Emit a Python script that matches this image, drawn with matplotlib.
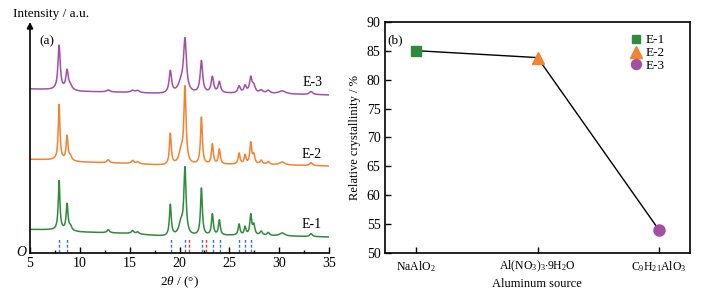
import numpy as np
import matplotlib
matplotlib.use("Agg")
import matplotlib.pyplot as plt

plt.rcParams['font.family'] = ['Liberation Serif', 'DejaVu Serif']
plt.rcParams['mathtext.fontset'] = 'custom'
plt.rcParams['mathtext.rm'] = 'Liberation Serif'
plt.rcParams['mathtext.it'] = 'Liberation Serif:italic'
plt.rcParams['mathtext.bf'] = 'Liberation Serif:bold'

# ---------------- data: XRD panel (a) ----------------
two_theta_range = [5, 35]
peak_pos = [7.92, 8.72, 9.05, 12.85, 15.3, 15.8, 19.08, 20.15, 20.55, 22.2,
            23.3, 24.0, 25.98, 26.58, 27.15, 27.45, 28.2, 28.9, 30.3, 33.2]
peak_hwhm = [0.10, 0.11, 0.15, 0.15, 0.15, 0.15, 0.11, 0.25, 0.13, 0.11,
             0.11, 0.11, 0.11, 0.11, 0.11, 0.13, 0.15, 0.15, 0.30, 0.15]
E1_heights = [49, 26, 4, 3, 3, 2, 31, 12, 66, 47, 21, 15, 11, 8, 20, 10, 4, 3, 3, 3]
E2_heights = [55, 24, 4, 3, 3, 2, 31, 12, 76, 47, 20, 15, 11, 9, 21, 9, 4, 3, 3, 3]
E3_heights = [44, 19, 4, 2, 2, 2, 22, 9, 52, 32, 16, 11, 7, 7, 15, 7, 3, 3, 3, 3]
baseline_x = [5, 8, 10, 15, 18.5, 25, 30, 35]
E1_base = [23.5, 23, 21, 19.5, 16.5, 17.5, 17, 16]
E2_base = [93.7, 93, 91, 89.5, 87.5, 88.5, 88, 87]
E3_base = [164, 163, 161.5, 160.5, 159, 159.5, 159, 158]
ref_blue = [7.91, 8.71, 19.11, 20.58, 22.25, 23.35, 24.05, 25.99, 26.6, 27.2]
ref_red = [20.98, 22.65]
series_names = ['E-1', 'E-2', 'E-3']
colors = ['#2f8a3e', '#f5822f', '#a44ea6']

# ---------------- data: crystallinity panel (b) ----------------
sources = [r'NaAlO$_2$', r'Al(NO$_3$)$_3$$\cdot$9H$_2$O', r'C$_9$H$_{21}$AlO$_3$']
crystallinity = [85.0, 83.8, 54.0]
markers = ['s', '^', 'o']
marker_sizes = [7, 9, 8]

fig = plt.figure(figsize=(7.04, 2.96), dpi=100)

# ---------- panel (a) ----------
axa = fig.add_axes([30/704, 1-253/296, 299/704, 231/296])
x = np.arange(5, 35.0001, 0.02)
wscale = [1.0, 1.0, 1.35]
for heights, bases, col, ws in zip([E1_heights, E2_heights, E3_heights],
                                   [E1_base, E2_base, E3_base], colors, wscale):
    y = np.interp(x, baseline_x, bases)
    for p, h, w in zip(peak_pos, heights, peak_hwhm):
        ww = w * ws
        y = y + h / (1 + ((x - p) / ww) ** 2)
    axa.plot(x, y, color=col, lw=1.1)

axa.vlines(ref_blue, 1.5, 15, colors='#3a6fd0', linestyles=(0, (2, 1.5)), lw=1.0)
axa.vlines(ref_red, 1.5, 15, colors='#e5322b', linestyles=(0, (2, 1.5)), lw=1.0)

axa.set_xlim(two_theta_range)
axa.set_ylim(0, 231)
axa.spines['top'].set_visible(False)
axa.spines['right'].set_visible(False)
axa.spines['left'].set_visible(False)
axa.set_yticks([])
axa.set_xticks([5, 10, 15, 20, 25, 30, 35])
axa.set_xticks(np.arange(7.5, 35, 5), minor=True)
axa.tick_params(axis='x', which='major', direction='in', length=4, width=1, labelsize=10, pad=3)
axa.tick_params(axis='x', which='minor', direction='in', length=2.5, width=1)
axa.spines['bottom'].set_linewidth(1.2)
axa.annotate('', xy=(0, 1.0), xycoords='axes fraction', xytext=(0, 0),
             textcoords='axes fraction',
             arrowprops=dict(arrowstyle='-|>', color='black', lw=1.2,
                             mutation_scale=9, shrinkA=0, shrinkB=0))
axa.set_xlabel(r'2$\it{\theta}$ / (°)', fontsize=9.5, labelpad=3)
axa.text(6.7, 212, '(a)', fontsize=9.5, ha='center', va='center')
for name, yy in zip(series_names, [28, 99, 170]):
    axa.text(33.3, yy, name, fontsize=10, ha='center', va='center')
fig.text(13/704, 1-14/296, 'Intensity / a.u.', fontsize=9.5, ha='left', va='center')
fig.text(21/704, 1-253/296, 'O', fontsize=10, fontstyle='italic', ha='center', va='center')

# ---------- panel (b) ----------
axb = fig.add_axes([384.7/704, 1-253.3/296, 305.3/704, 231.6/296])
xb = np.arange(len(sources))
axb.plot(xb, crystallinity, color='black', lw=1.0, zorder=2)
for i in range(len(xb)):
    axb.plot(xb[i], crystallinity[i], linestyle='none', marker=markers[i],
             markersize=marker_sizes[i], color=colors[i], label=series_names[i],
             zorder=3)
axb.set_xlim(-0.257, 2.254)
axb.set_ylim(50, 90)
axb.set_yticks([50, 55, 60, 65, 70, 75, 80, 85, 90])
axb.set_xticks(xb)
axb.set_xticklabels(sources)
axb.tick_params(axis='y', direction='in', length=4, width=1, labelsize=10, pad=3)
axb.tick_params(axis='x', direction='in', length=4, width=1, labelsize=8.5, pad=4)
for s in axb.spines.values():
    s.set_linewidth(1.2)
axb.set_ylabel('Relative crystallinity / %', fontsize=9, labelpad=4)
axb.set_xlabel('Aluminum source', fontsize=9, labelpad=3)
axb.text(-0.17, 86.8, '(b)', fontsize=9.5, ha='center', va='center')
axb.legend(loc='upper right', bbox_to_anchor=(0.94, 0.975), frameon=False,
           fontsize=9.5, handletextpad=0.25, labelspacing=0.05, borderpad=0,
           handlelength=1.0, markerscale=0.9)

fig.savefig('out.png', dpi=100)
